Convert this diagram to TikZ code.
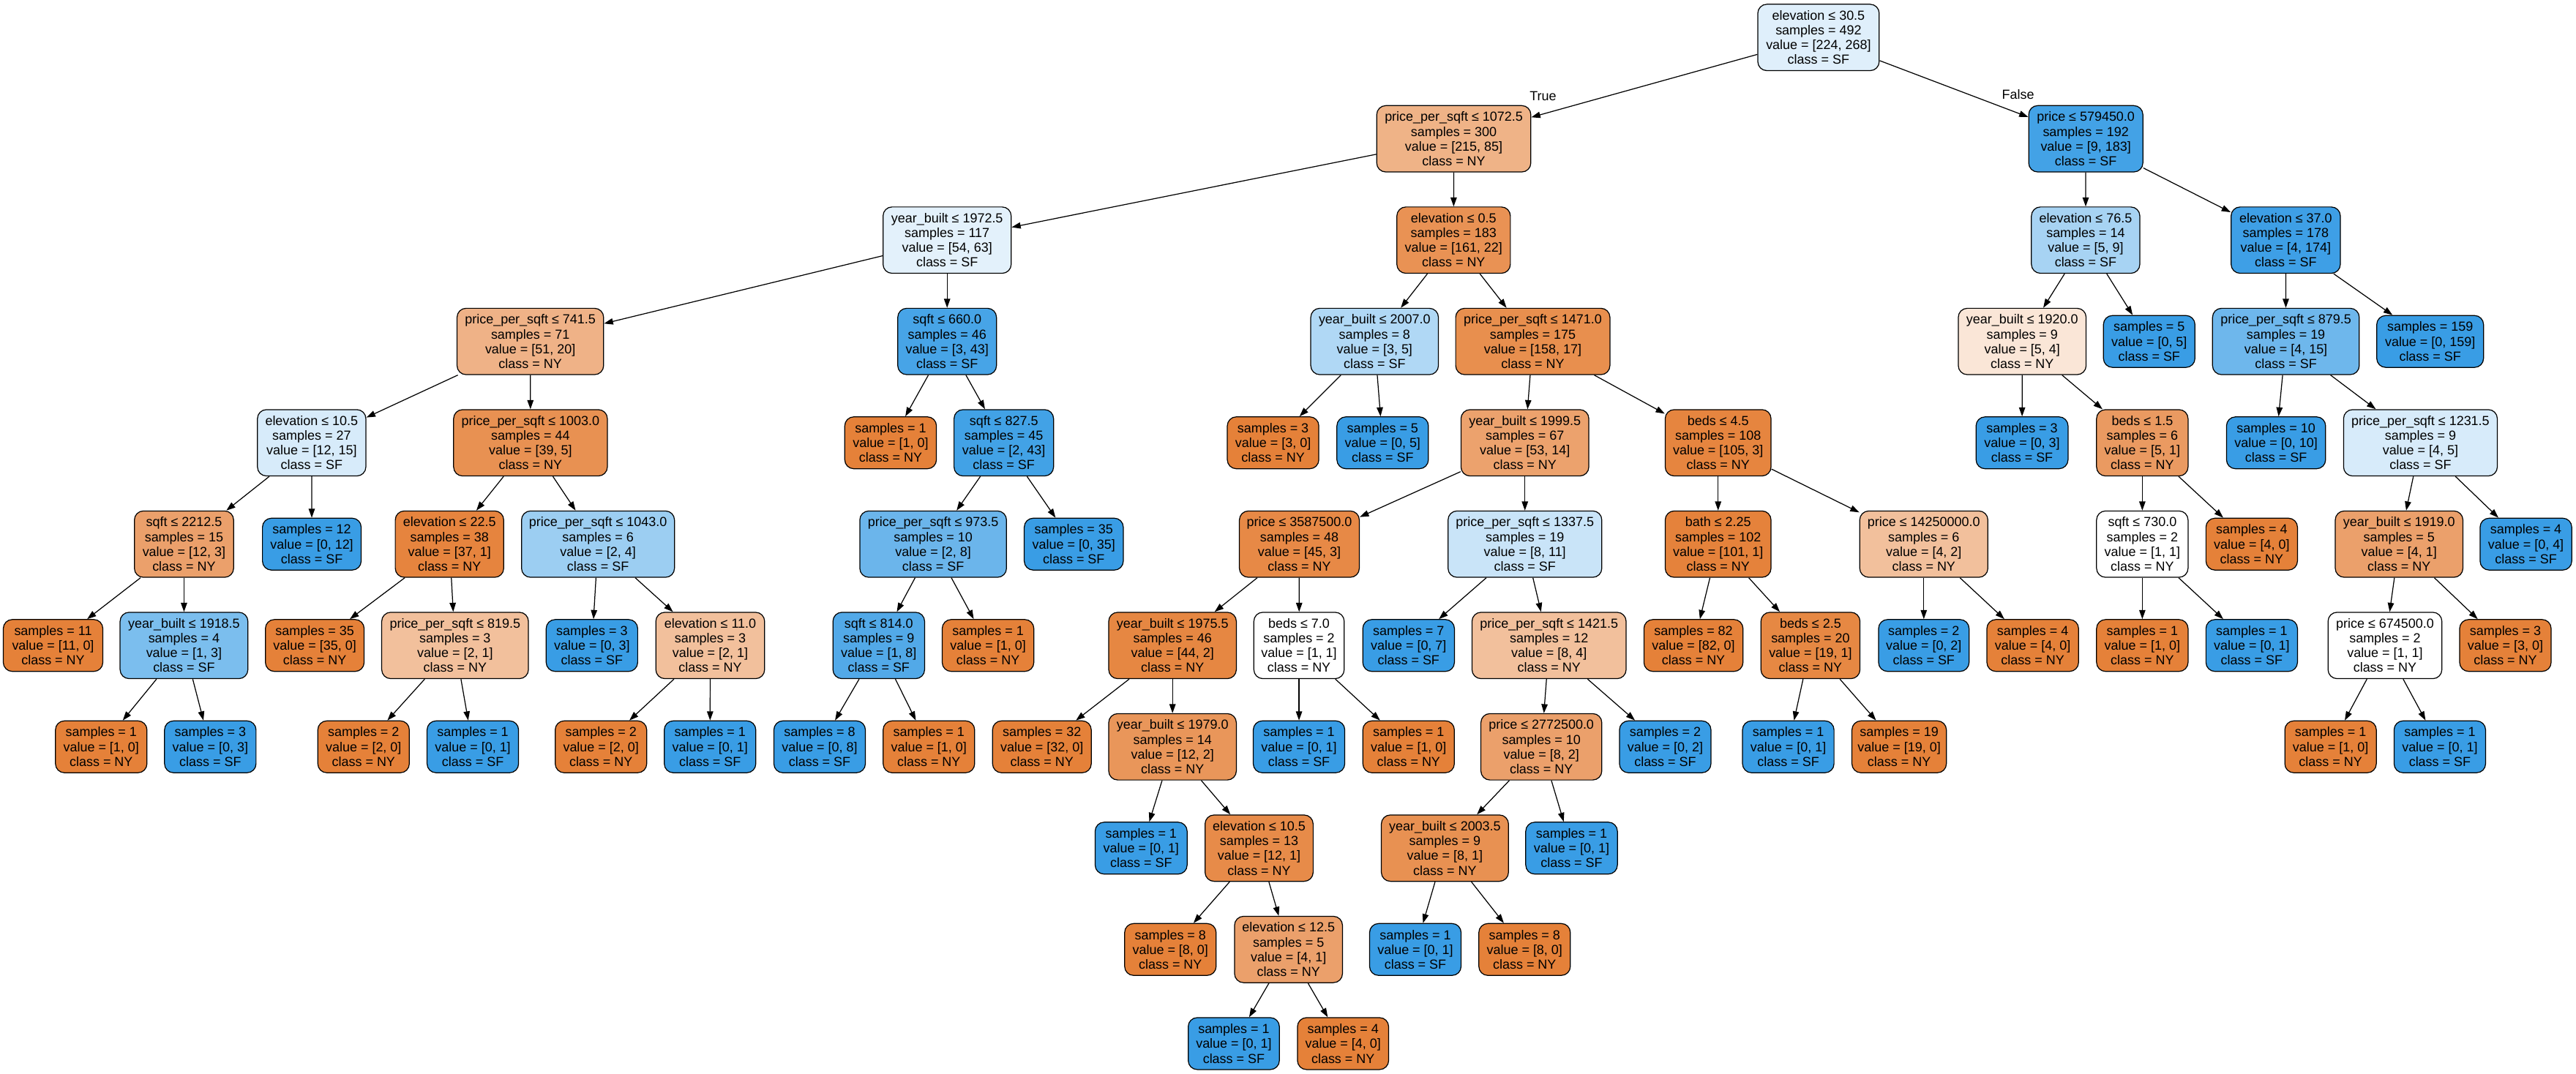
\documentclass[tikz,border=0pt]{standalone}
\usepackage{fontspec}
\setmainfont{Liberation Sans}
\usetikzlibrary{arrows.meta}
\definecolor{NYc}{RGB}{229,129,57}
\definecolor{SFc}{RGB}{57,157,229}
\begin{document}
\begin{tikzpicture}[x=1pt,y=-1pt,
  tn/.style={draw=black, line width=0.55pt, rounded corners=5.5pt, align=center,
    inner xsep=2pt, inner ysep=0pt, font=\fontsize{8}{9}\selectfont},
  four/.style={tn, minimum height=40.4pt},
  three/.style={tn, minimum height=31.6pt},
  ny/.style={fill=NYc!#1!white},
  sf/.style={fill=SFc!#1!white},
  wh/.style={fill=white},
  arr/.style={draw=black, line width=0.55pt, -{Triangle[length=5.5pt,width=3.8pt]}},
  lbl/.style={font=\fontsize{8}{9}\selectfont, inner sep=0pt}]
\fill[white] (0,0) rectangle (1568,653.9);
\useasboundingbox (0,0) rectangle (1568,653.9);
% row 0
\node[four,sf=16.4,minimum width=73.9pt] (root) at (1106.9,22.8) {elevation ≤ 30.5\\samples = 492\\value = [224, 268]\\class = SF};
% row 1
\node[four,ny=60.5,minimum width=93.8pt] (A) at (884.9,84.5) {price\_per\_sqft ≤ 1072.5\\samples = 300\\value = [215, 85]\\class = NY};
\node[four,sf=95.1,minimum width=69.5pt] (BA) at (1269.6,84.5) {price ≤ 579450.0\\samples = 192\\value = [9, 183]\\class = SF};
% row 2
\node[four,sf=14.3,minimum width=78pt] (B) at (576.5,146.2) {year\_built ≤ 1972.5\\samples = 117\\value = [54, 63]\\class = SF};
\node[four,ny=86.3,minimum width=69.1pt] (P) at (884.8,146.2) {elevation ≤ 0.5\\samples = 183\\value = [161, 22]\\class = NY};
\node[four,sf=44.4,minimum width=66pt] (BB) at (1269.5,146.2) {elevation ≤ 76.5\\samples = 14\\value = [5, 9]\\class = SF};
\node[four,sf=97.7,minimum width=66.5pt] (BF) at (1391.3,146.2) {elevation ≤ 37.0\\samples = 178\\value = [4, 174]\\class = SF};
% row 3
\node[four,ny=60.8,minimum width=89.2pt] (C) at (322.8,207.9) {price\_per\_sqft ≤ 741.5\\samples = 71\\value = [51, 20]\\class = NY};
\node[four,sf=93,minimum width=60.1pt] (L) at (576.5,207.9) {sqft ≤ 660.0\\samples = 46\\value = [3, 43]\\class = SF};
\node[four,sf=40,minimum width=77.7pt] (Q) at (836.7,207.9) {year\_built ≤ 2007.0\\samples = 8\\value = [3, 5]\\class = SF};
\node[four,ny=89.2,minimum width=93.9pt] (S) at (933,207.9) {price\_per\_sqft ≤ 1471.0\\samples = 175\\value = [158, 17]\\class = NY};
\node[four,ny=20,minimum width=77.8pt] (BC) at (1230.9,207.9) {year\_built ≤ 1920.0\\samples = 9\\value = [5, 4]\\class = NY};
\node[three,sf=100,minimum width=55.7pt] (lbb) at (1308.2,207.9) {samples = 5\\value = [0, 5]\\class = SF};
\node[four,sf=73.3,minimum width=89.3pt] (BG) at (1391.4,207.9) {price\_per\_sqft ≤ 879.5\\samples = 19\\value = [4, 15]\\class = SF};
\node[three,sf=100,minimum width=65pt] (lbf) at (1479.2,207.9) {samples = 159\\value = [0, 159]\\class = SF};
% row 4
\node[four,sf=20,minimum width=66pt] (D) at (189.7,269.6) {elevation ≤ 10.5\\samples = 27\\value = [12, 15]\\class = SF};
\node[four,ny=87.2,minimum width=93.6pt] (G) at (322.9,269.6) {price\_per\_sqft ≤ 1003.0\\samples = 44\\value = [39, 5]\\class = NY};
\node[three,ny=100,minimum width=55.8pt] (ll) at (542.1,269.6) {samples = 1\\value = [1, 0]\\class = NY};
\node[four,sf=95.3,minimum width=60.6pt] (M) at (611,269.6) {sqft ≤ 827.5\\samples = 45\\value = [2, 43]\\class = SF};
\node[three,ny=100,minimum width=55.7pt] (lq1) at (774.9,269.6) {samples = 3\\value = [3, 0]\\class = NY};
\node[three,sf=100,minimum width=55.7pt] (lq2) at (841.6,269.6) {samples = 5\\value = [0, 5]\\class = SF};
\node[four,ny=73.6,minimum width=77.8pt] (T) at (928.2,269.6) {year\_built ≤ 1999.5\\samples = 67\\value = [53, 14]\\class = NY};
\node[four,ny=97.1,minimum width=64.4pt] (AE) at (1045.8,269.6) {beds ≤ 4.5\\samples = 108\\value = [105, 3]\\class = NY};
\node[three,sf=100,minimum width=56pt] (lbc) at (1230.8,269.6) {samples = 3\\value = [0, 3]\\class = SF};
\node[four,ny=80,minimum width=55.7pt] (BD) at (1304,269.6) {beds ≤ 1.5\\samples = 6\\value = [5, 1]\\class = NY};
\node[three,sf=100,minimum width=60.3pt] (lbg) at (1385.4,269.6) {samples = 10\\value = [0, 10]\\class = SF};
\node[four,sf=20,minimum width=93.6pt] (BH) at (1473.3,269.6) {price\_per\_sqft ≤ 1231.5\\samples = 9\\value = [4, 5]\\class = SF};
% row 5
\node[four,ny=75,minimum width=60.4pt] (E) at (112,331.3) {sqft ≤ 2212.5\\samples = 15\\value = [12, 3]\\class = NY};
\node[three,sf=100,minimum width=60.1pt] (ld) at (189.8,331.3) {samples = 12\\value = [0, 12]\\class = SF};
\node[four,ny=97.3,minimum width=66pt] (H) at (273.6,331.3) {elevation ≤ 22.5\\samples = 38\\value = [37, 1]\\class = NY};
\node[four,sf=50,minimum width=93.1pt] (J) at (364,331.3) {price\_per\_sqft ≤ 1043.0\\samples = 6\\value = [2, 4]\\class = SF};
\node[four,sf=75,minimum width=89.3pt] (N) at (568,331.3) {price\_per\_sqft ≤ 973.5\\samples = 10\\value = [2, 8]\\class = SF};
\node[three,sf=100,minimum width=60.3pt] (lm) at (653.6,331.3) {samples = 35\\value = [0, 35]\\class = SF};
\node[four,ny=93.3,minimum width=73pt] (U) at (790.9,331.3) {price ≤ 3587500.0\\samples = 48\\value = [45, 3]\\class = NY};
\node[four,sf=27.3,minimum width=93.6pt] (AA) at (928.2,331.3) {price\_per\_sqft ≤ 1337.5\\samples = 19\\value = [8, 11]\\class = SF};
\node[four,ny=99,minimum width=64.4pt] (AF) at (1045.8,331.3) {bath ≤ 2.25\\samples = 102\\value = [101, 1]\\class = NY};
\node[four,ny=50,minimum width=78pt] (AH) at (1171,331.3) {price ≤ 14250000.0\\samples = 6\\value = [4, 2]\\class = NY};
\node[four,wh,minimum width=55.7pt] (BE) at (1304,331.3) {sqft ≤ 730.0\\samples = 2\\value = [1, 1]\\class = NY};
\node[three,ny=100,minimum width=55.7pt] (lbd) at (1370.6,331.3) {samples = 4\\value = [4, 0]\\class = NY};
\node[four,ny=75,minimum width=77.7pt] (BI) at (1460.3,331.3) {year\_built ≤ 1919.0\\samples = 5\\value = [4, 1]\\class = NY};
\node[three,sf=100,minimum width=55.8pt] (lbh) at (1537.5,331.3) {samples = 4\\value = [0, 4]\\class = SF};
% row 6
\node[three,ny=100,minimum width=60.6pt] (le) at (32.3,393) {samples = 11\\value = [11, 0]\\class = NY};
\node[four,sf=66.7,minimum width=77.8pt] (F) at (112,393) {year\_built ≤ 1918.5\\samples = 4\\value = [1, 3]\\class = SF};
\node[three,ny=100,minimum width=60.1pt] (lh) at (191.6,393) {samples = 35\\value = [35, 0]\\class = NY};
\node[four,ny=50,minimum width=89.3pt] (I) at (277,393) {price\_per\_sqft ≤ 819.5\\samples = 3\\value = [2, 1]\\class = NY};
\node[three,sf=100,minimum width=55.7pt] (lj) at (360.3,393) {samples = 3\\value = [0, 3]\\class = SF};
\node[four,ny=50,minimum width=66.2pt] (K) at (432.3,393) {elevation ≤ 11.0\\samples = 3\\value = [2, 1]\\class = NY};
\node[four,sf=87.5,minimum width=55.8pt] (O) at (534.9,393) {sqft ≤ 814.0\\samples = 9\\value = [1, 8]\\class = SF};
\node[three,ny=100,minimum width=55.8pt] (ln) at (601.4,393) {samples = 1\\value = [1, 0]\\class = NY};
\node[four,ny=95.5,minimum width=77.7pt] (V) at (713.7,393) {year\_built ≤ 1975.5\\samples = 46\\value = [44, 2]\\class = NY};
\node[four,wh,minimum width=55pt] (Z) at (790.7,393) {beds ≤ 7.0\\samples = 2\\value = [1, 1]\\class = NY};
\node[three,sf=100,minimum width=55.8pt] (laa) at (857.4,393) {samples = 7\\value = [0, 7]\\class = SF};
\node[four,ny=50,minimum width=93.8pt] (AB) at (942.9,393) {price\_per\_sqft ≤ 1421.5\\samples = 12\\value = [8, 4]\\class = NY};
\node[three,ny=100,minimum width=60.3pt] (laf) at (1030.8,393) {samples = 82\\value = [82, 0]\\class = NY};
\node[four,ny=94.7,minimum width=60.3pt] (AG) at (1102,393) {beds ≤ 2.5\\samples = 20\\value = [19, 1]\\class = NY};
\node[three,sf=100,minimum width=55.1pt] (lah1) at (1171,393) {samples = 2\\value = [0, 2]\\class = SF};
\node[three,ny=100,minimum width=55.8pt] (lah2) at (1237.3,393) {samples = 4\\value = [4, 0]\\class = NY};
\node[three,ny=100,minimum width=55.7pt] (lbe1) at (1304,393) {samples = 1\\value = [1, 0]\\class = NY};
\node[three,sf=100,minimum width=55.7pt] (lbe2) at (1370.6,393) {samples = 1\\value = [0, 1]\\class = SF};
\node[four,wh,minimum width=69.3pt] (BJ) at (1451.7,393) {price ≤ 674500.0\\samples = 2\\value = [1, 1]\\class = NY};
\node[three,ny=100,minimum width=55.7pt] (lbi) at (1525,393) {samples = 3\\value = [3, 0]\\class = NY};
% row 7
\node[three,ny=100,minimum width=55.7pt] (lf1) at (61.6,454.7) {samples = 1\\value = [1, 0]\\class = NY};
\node[three,sf=100,minimum width=55.7pt] (lf2) at (128,454.7) {samples = 3\\value = [0, 3]\\class = SF};
\node[three,ny=100,minimum width=55.7pt] (li1) at (221.3,454.7) {samples = 2\\value = [2, 0]\\class = NY};
\node[three,sf=100,minimum width=55.7pt] (li2) at (287.8,454.7) {samples = 1\\value = [0, 1]\\class = SF};
\node[three,ny=100,minimum width=55.7pt] (lk1) at (365.8,454.7) {samples = 2\\value = [2, 0]\\class = NY};
\node[three,sf=100,minimum width=55.7pt] (lk2) at (432.2,454.7) {samples = 1\\value = [0, 1]\\class = SF};
\node[three,sf=100,minimum width=55.7pt] (lo1) at (498.9,454.7) {samples = 8\\value = [0, 8]\\class = SF};
\node[three,ny=100,minimum width=55.7pt] (lo2) at (565.4,454.7) {samples = 1\\value = [1, 0]\\class = NY};
\node[three,ny=100,minimum width=60.1pt] (lv) at (634.2,454.7) {samples = 32\\value = [32, 0]\\class = NY};
\node[four,ny=83.3,minimum width=77.7pt] (W) at (713.7,454.7) {year\_built ≤ 1979.0\\samples = 14\\value = [12, 2]\\class = NY};
\node[three,sf=100,minimum width=55.7pt] (lz1) at (790.7,454.7) {samples = 1\\value = [0, 1]\\class = SF};
\node[three,ny=100,minimum width=55.7pt] (lz2) at (857.4,454.7) {samples = 1\\value = [1, 0]\\class = NY};
\node[four,ny=75,minimum width=73.6pt] (AC) at (938.2,454.7) {price ≤ 2772500.0\\samples = 10\\value = [8, 2]\\class = NY};
\node[three,sf=100,minimum width=55.7pt] (lab) at (1013.6,454.7) {samples = 2\\value = [0, 2]\\class = SF};
\node[three,sf=100,minimum width=55.7pt] (lag1) at (1088.5,454.7) {samples = 1\\value = [0, 1]\\class = SF};
\node[three,ny=100,minimum width=57.5pt] (lag2) at (1156,454.7) {samples = 19\\value = [19, 0]\\class = NY};
\node[three,ny=100,minimum width=55.7pt] (lbj1) at (1418.6,454.7) {samples = 1\\value = [1, 0]\\class = NY};
\node[three,sf=100,minimum width=55.7pt] (lbj2) at (1485.1,454.7) {samples = 1\\value = [0, 1]\\class = SF};
% row 8
\node[three,sf=100,minimum width=56pt] (lw) at (694.6,516.4) {samples = 1\\value = [0, 1]\\class = SF};
\node[four,ny=91.7,minimum width=65.8pt] (X) at (766.4,516.4) {elevation ≤ 10.5\\samples = 13\\value = [12, 1]\\class = NY};
\node[four,ny=87.5,minimum width=77.4pt] (AD) at (879.5,516.4) {year\_built ≤ 2003.5\\samples = 9\\value = [8, 1]\\class = NY};
\node[three,sf=100,minimum width=55.8pt] (lac) at (956.6,516.4) {samples = 1\\value = [0, 1]\\class = SF};
% row 9
\node[three,ny=100,minimum width=55.7pt] (lx) at (712.4,578.1) {samples = 8\\value = [8, 0]\\class = NY};
\node[four,ny=75,minimum width=65.7pt] (Y) at (784.3,578.1) {elevation ≤ 12.5\\samples = 5\\value = [4, 1]\\class = NY};
\node[three,sf=100,minimum width=55.7pt] (lad1) at (861.5,578.1) {samples = 1\\value = [0, 1]\\class = SF};
\node[three,ny=100,minimum width=55.7pt] (lad2) at (928,578.1) {samples = 8\\value = [8, 0]\\class = NY};
% row 10
\node[three,sf=100,minimum width=55.5pt] (ly1) at (751,635.4) {samples = 1\\value = [0, 1]\\class = SF};
\node[three,ny=100,minimum width=55.5pt] (ly2) at (817.5,635.4) {samples = 4\\value = [4, 0]\\class = NY};
% edge labels
\node[lbl] (ltrue) at (939.2,58.4) {True};
\node[lbl] (lfalse) at (1228.4,57.5) {False};
% edges
\foreach \p/\c in {root/A, root/BA, A/B, A/P, B/C, B/L, C/D, C/G, D/E, D/ld,
  E/le, E/F, F/lf1, F/lf2, G/H, G/J, H/lh, H/I, I/li1, I/li2, J/lj, J/K,
  K/lk1, K/lk2, L/ll, L/M, M/N, M/lm, N/O, N/ln, O/lo1, O/lo2, P/Q, P/S,
  Q/lq1, Q/lq2, S/T, S/AE, T/U, T/AA, U/V, U/Z, V/lv, V/W, W/lw, W/X,
  X/lx, X/Y, Y/ly1, Y/ly2, Z/lz1, Z/lz2, AA/laa, AA/AB, AB/AC, AB/lab,
  AC/AD, AC/lac, AD/lad1, AD/lad2, AE/AF, AE/AH, AF/laf, AF/AG, AG/lag1,
  AG/lag2, AH/lah1, AH/lah2, BA/BB, BA/BF, BB/BC, BB/lbb, BC/lbc, BC/BD,
  BD/BE, BD/lbd, BE/lbe1, BE/lbe2, BF/BG, BF/lbf, BG/lbg, BG/BH, BH/BI,
  BH/lbh, BI/BJ, BI/lbi, BJ/lbj1, BJ/lbj2}
  \draw[arr] (\p) -- (\c);
\end{tikzpicture}
\end{document}
